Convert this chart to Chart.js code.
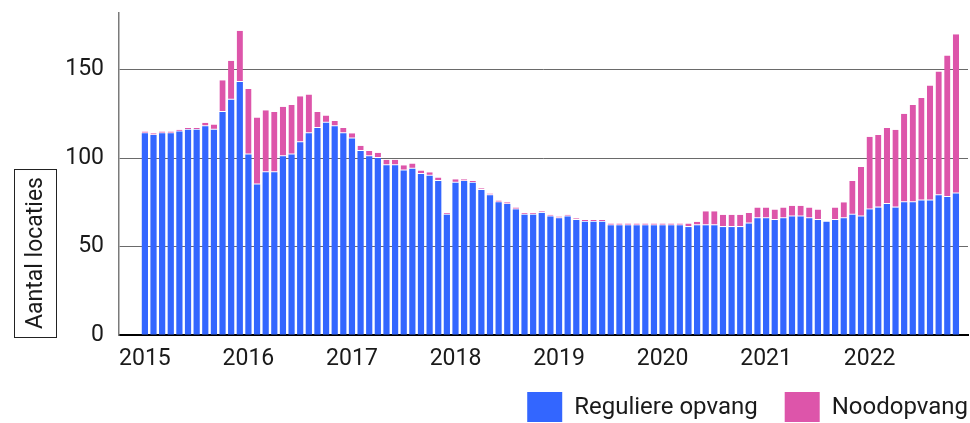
<!DOCTYPE html>
<html>
<head>
<meta charset="utf-8">
<script src="https://cdn.jsdelivr.net/npm/chart.js@4/dist/chart.umd.min.js"></script>
<style>
html,body{margin:0;padding:0;background:#fff;}
#wrap{width:970px;height:423px;position:relative;}
</style>
</head>
<body>
<div id="wrap"><canvas id="c" width="970" height="423"></canvas></div>
<script>
// ---- data ----
const yearLabels = ['2015','2016','2017','2018','2019','2020','2021','2022'];
const monthNames = ['jan','feb','mrt','apr','mei','jun','jul','aug','sep','okt','nov','dec'];
// monthly values, Jan 2015 - Nov 2022
const reguliere = [
  114,113,114,114,115,116,116,118,116,126,133,143,
  102, 85, 92, 92,101,102,109,114,117,120,118,114,
  111,104,101,100, 96, 96, 93, 94, 91, 90, 87, 68,
   86, 87, 86, 82, 79, 75, 74, 71, 68, 68, 69, 67,
   66, 67, 65, 64, 64, 64, 62, 62, 62, 62, 62, 62,
   62, 62, 62, 61, 62, 62, 62, 61, 61, 61, 63, 66,
   66, 65, 66, 67, 67, 66, 65, 64, 65, 66, 68, 67,
   71, 72, 74, 72, 75, 75, 76, 76, 79, 78, 80
];
const noodopvang = [
    1,  1,  1,  1,  1,  1,  1,  2,  3, 18, 22, 29,
   37, 38, 35, 34, 28, 28, 26, 22,  9,  4,  3,  3,
    3,  3,  3,  3,  3,  3,  3,  3,  2,  2,  2,  1,
    2,  1,  1,  1,  1,  1,  1,  1,  1,  1,  1,  1,
    1,  1,  1,  1,  1,  1,  1,  1,  1,  1,  1,  1,
    1,  1,  1,  2,  2,  8,  8,  7,  7,  7,  6,  6,
    6,  6,  6,  6,  6,  6,  6,  0,  7,  9, 19, 28,
   41, 41, 43, 44, 50, 55, 58, 65, 70, 80, 90
];
const seriesNames = ['Reguliere opvang', 'Noodopvang'];
const seriesColors = ['#3366ff', '#dd55aa'];
const yTickValues = [0, 50, 100, 150];
const yAxisTitle = 'Aantal locaties';

const months = reguliere.map((_, i) => monthNames[i % 12] + ' ' + yearLabels[Math.floor(i / 12)]);

const FONT = 'Roboto';
const FS = 23;
const LFS = 24;
const TXT = '#1a1a1a';

const axisTitlePlugin = {
  id: 'axisTitleBox',
  afterDraw(chart) {
    const ctx = chart.ctx;
    const area = chart.chartArea;
    ctx.save();
    ctx.font = FS + 'px ' + FONT;
    const w = ctx.measureText(yAxisTitle).width;
    const padV = 8;
    const boxW = 42;
    const cx = 35;
    const bottom = area.bottom + 2;
    const h = w + padV * 2;
    ctx.strokeStyle = '#222';
    ctx.lineWidth = 1;
    ctx.strokeRect(cx - boxW / 2 + 0.5, bottom - h + 0.5, boxW, h);
    ctx.translate(cx, bottom - h / 2);
    ctx.rotate(-Math.PI / 2);
    ctx.fillStyle = TXT;
    ctx.textAlign = 'center';
    ctx.textBaseline = 'middle';
    ctx.fillText(yAxisTitle, 0, 1);
    ctx.restore();
  }
};

const legendPlugin = {
  id: 'customLegend',
  afterDraw(chart) {
    const ctx = chart.ctx;
    const area = chart.chartArea;
    ctx.save();
    ctx.font = LFS + 'px ' + FONT;
    const boxW = 35, boxH = 30, gapText = 12, gapItem = 27;
    const items = chart.data.datasets.map(d => ({label: d.label, color: d.backgroundColor, w: ctx.measureText(d.label).width}));
    let total = 0;
    items.forEach((it, i) => { total += boxW + gapText + it.w + (i ? gapItem : 0); });
    let x = area.right - total;
    const top = 392;
    items.forEach((it, i) => {
      if (i) x += gapItem;
      ctx.fillStyle = it.color;
      ctx.fillRect(x, top, boxW, boxH);
      x += boxW + gapText;
      ctx.fillStyle = TXT;
      ctx.textAlign = 'left';
      ctx.textBaseline = 'middle';
      ctx.fillText(it.label, x, top + boxH / 2 + 1);
      x += it.w;
    });
    ctx.restore();
  }
};

new Chart(document.getElementById('c'), {
  type: 'bar',
  data: {
    datasets: [
      {
        label: seriesNames[0],
        data: reguliere.map((v, i) => ({x: i, y: v})),
        backgroundColor: seriesColors[0],
        borderWidth: 0
      },
      {
        label: seriesNames[1],
        data: noodopvang.map((v, i) => ({x: i, y: v})),
        backgroundColor: seriesColors[1],
        borderColor: '#ffffff',
        borderWidth: {top: 0, left: 0, right: 0, bottom: 1},
        borderSkipped: false
      }
    ]
  },
  options: {
    responsive: false,
    animation: false,
    devicePixelRatio: 1,
    layout: {padding: {left: 0, right: 2, top: 13, bottom: 58}},
    plugins: {
      legend: {display: false},
      tooltip: {enabled: true, callbacks: {title: items => months[items[0].parsed.x]}}
    },
    scales: {
      x: {
        type: 'linear',
        stacked: true,
        min: -3,
        max: 95.4,
        offset: false,
        grid: {display: false, drawTicks: false},
        border: {display: true, color: '#000', width: 2},
        afterBuildTicks: axis => { axis.ticks = yearLabels.map((y, i) => ({value: i * 12})); },
        afterFit: s => { s.height = 30; s.paddingLeft = 0; s.paddingRight = 0; },
        ticks: {
          autoSkip: false,
          maxRotation: 0,
          padding: 13,
          color: TXT,
          font: {family: FONT, size: FS, lineHeight: 1},
          callback: v => yearLabels[Math.round(v / 12)]
        }
      },
      y: {
        stacked: true,
        min: 0,
        max: 182,
        afterBuildTicks: axis => { axis.ticks = yTickValues.map(v => ({value: v})); },
        afterFit: s => { s.width = 119; s.paddingTop = 0; s.paddingBottom = 0; },
        grid: {color: '#6a6a6a', lineWidth: 1, drawTicks: false},
        border: {display: true, color: '#7a7a7a', width: 1.5},
        ticks: {
          padding: 15,
          color: TXT,
          font: {family: FONT, size: FS, lineHeight: 1}
        }
      }
    }
  },
  plugins: [axisTitlePlugin, legendPlugin]
});
</script>
</body>
</html>
